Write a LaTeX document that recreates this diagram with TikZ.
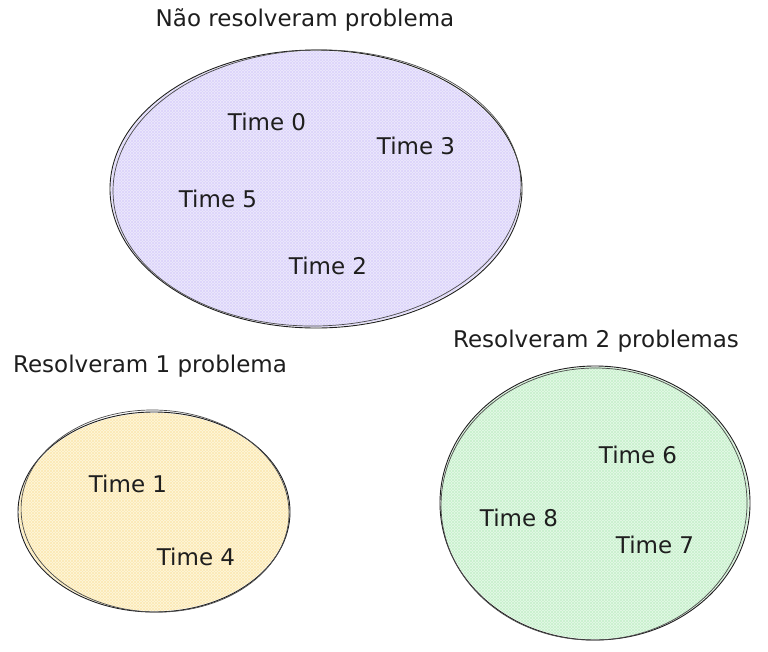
\documentclass[tikz,border=0pt]{standalone}
\usepackage{fontspec}
\setmainfont{DejaVu Sans}
\usetikzlibrary{patterns}
\definecolor{purpfill}{HTML}{EEEAFD}
\definecolor{purphatch}{HTML}{DCD4FA}
\definecolor{yelfill}{HTML}{FFF7DD}
\definecolor{yelhatch}{HTML}{FBE9B4}
\definecolor{grnfill}{HTML}{E6F9E8}
\definecolor{grnhatch}{HTML}{C8F0CD}
\definecolor{inkc}{HTML}{1E1E1E}
\tikzset{
  x=1pt,y=-1pt,
  lbl/.style={font=\fontsize{23}{26}\selectfont, text=inkc, inner sep=0pt},
  stroke/.style={draw=inkc, line width=0.9pt},
  stroke2/.style={draw=inkc!80, line width=0.7pt},
}
\begin{document}
\begin{tikzpicture}
\useasboundingbox (0,0) rectangle (768,651);
% purple
\fill[purpfill] (316,189) ellipse [x radius=205, y radius=138];
\fill[pattern=north east lines, pattern color=purphatch] (316,189) ellipse [x radius=205, y radius=138];
\fill[pattern=north west lines, pattern color=purphatch] (316,189) ellipse [x radius=205, y radius=138];
\draw[stroke] (316,189) ellipse [x radius=206, y radius=139];
\draw[stroke2, rotate around={1.5:(316,189)}] (317,188) ellipse [x radius=204, y radius=138];
% yellow
\fill[yelfill] (154,512) ellipse [x radius=135, y radius=99];
\fill[pattern=north east lines, pattern color=yelhatch] (154,512) ellipse [x radius=135, y radius=99];
\fill[pattern=north west lines, pattern color=yelhatch] (154,512) ellipse [x radius=135, y radius=99];
\draw[stroke] (154,512) ellipse [x radius=136, y radius=100];
\draw[stroke2, rotate around={-2:(154,512)}] (155,511) ellipse [x radius=134, y radius=101];
% green
\fill[grnfill] (595,503) ellipse [x radius=154, y radius=136];
\fill[pattern=north east lines, pattern color=grnhatch] (595,503) ellipse [x radius=154, y radius=136];
\fill[pattern=north west lines, pattern color=grnhatch] (595,503) ellipse [x radius=154, y radius=136];
\draw[stroke] (595,503) ellipse [x radius=155, y radius=137];
\draw[stroke2, rotate around={2:(595,503)}] (594,504) ellipse [x radius=153, y radius=136];
% labels
\node[lbl] (t1) at (305,20) {Não resolveram problema};
\node[lbl] (t2) at (150,366) {Resolveram 1 problema};
\node[lbl] (t3) at (596,341) {Resolveram 2 problemas};
\node[lbl] (a0) at (267,122) {Time 0};
\node[lbl] (a3) at (416,146) {Time 3};
\node[lbl] (a5) at (218,199) {Time 5};
\node[lbl] (a2) at (328,266) {Time 2};
\node[lbl] (b1) at (128,484) {Time 1};
\node[lbl] (b4) at (196,557) {Time 4};
\node[lbl] (c6) at (638,455) {Time 6};
\node[lbl] (c8) at (519,518) {Time 8};
\node[lbl] (c7) at (655,545) {Time 7};
\end{tikzpicture}
\end{document}
